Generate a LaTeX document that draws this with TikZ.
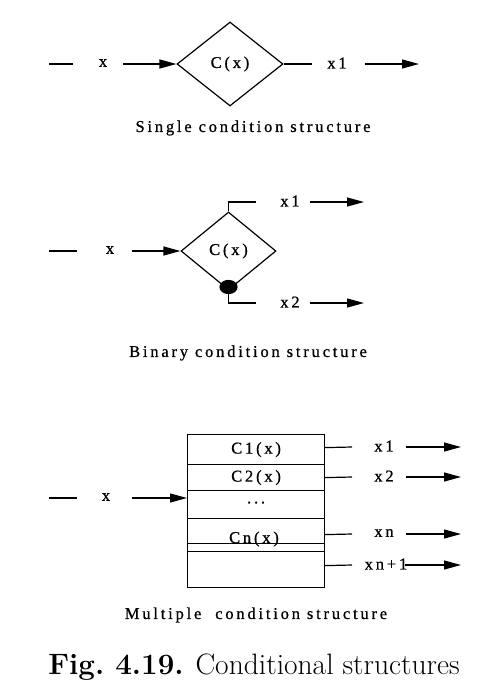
\documentclass[tikz,border=0pt]{standalone}
\usepackage{fontspec}
\newfontfamily\tms[LetterSpace=17,FakeBold=0.8]{Liberation Serif}
\usetikzlibrary{shapes.geometric,arrows.meta}
\tikzset{
  every picture/.style={line width=1.2pt},
  lbl/.style={font=\tms\fontsize{16.5}{18}\selectfont, inner sep=0pt, anchor=center},
  captext/.style={font=\tms\fontsize{16.5}{18}\selectfont, inner sep=0pt},
  arr/.style={-{Triangle[length=17pt,width=9pt]}},
  cond/.style={draw, diamond, inner sep=0pt, font=\tms\fontsize{16.5}{18}\selectfont},
  row/.style={draw, rectangle, minimum width=137pt, inner sep=0pt, anchor=north west},
  dotnode/.style={draw, fill=black, ellipse, minimum width=17pt, minimum height=13pt, inner sep=0pt}
}
\begin{document}
\begin{tikzpicture}[x=1pt,y=-1pt]
\useasboundingbox (0,0) rectangle (494,691);
% ---------- single ----------
\coordinate (a0) at (49,64);
\coordinate (a1) at (73,64);
\draw (a0) -- (a1);
\node[lbl] (ax) at (103,63) {x};
\coordinate (a2) at (123,64);
\node[cond, minimum width=106pt, minimum height=84pt, aspect=1.26] (c1) at (230,64) {C(x)};
\draw[arr] (a2) -- (c1.west);
\coordinate (a3) at (312,64);
\draw (c1.east) -- (a3);
\node[lbl] (ax1) at (337,63) {x1};
\coordinate (a4) at (365,64);
\coordinate (a5) at (419,64);
\draw[arr] (a4) -- (a5);
\node[captext] (cap1) at (253,128) {Single condition structure};
% ---------- binary ----------
\coordinate (b0) at (49,251);
\coordinate (b1) at (77,251);
\draw (b0) -- (b1);
\node[lbl] (bx) at (110,250) {x};
\coordinate (b2) at (132,251);
\node[cond, minimum width=95pt, minimum height=78pt, aspect=1.22] (c2) at (228.5,251) {C(x)};
\draw[arr] (b2) -- (c2.west);
\coordinate (b3) at (256,202);
\draw (c2.north) |- (b3);
\node[lbl] (bx1) at (290,201) {x1};
\coordinate (b4) at (310,202);
\coordinate (b5) at (364,202);
\draw[arr] (b4) -- (b5);
\node[dotnode] (dot) at (228.5,287) {};
\coordinate (b6) at (256,303);
\draw (dot.south) |- (b6);
\node[lbl] (bx2) at (290,302) {x2};
\coordinate (b7) at (310,303);
\coordinate (b8) at (364,303);
\draw[arr] (b7) -- (b8);
\node[captext] (cap2) at (248,353) {Binary condition structure};
% ---------- multiple ----------
\node[row, minimum height=30pt] (r1) at (187,434) {};
\node[row, minimum height=26pt] (r2) at (187,464) {};
\node[row, minimum height=28pt] (r3) at (187,490) {};
\node[row, minimum height=25pt] (r4) at (187,518) {};
\node[row, minimum height=8pt] (r5) at (187,543) {};
\node[row, minimum height=36pt] (r6) at (187,551) {};
\node[lbl] (t1) at (r1.center) {C1(x)};
\node[lbl] (t2) at (r2.center) {C2(x)};
\node[lbl] (t3) at ([yshift=2pt]r3.center) {...};
\node[lbl, anchor=base] (t4) at (254,543) {Cn(x)};
\coordinate (m0) at (49,498);
\coordinate (m1) at (77,498);
\draw (m0) -- (m1);
\node[lbl] (mx) at (106,497) {x};
\coordinate (m2) at (132,498);
\coordinate (m3) at (187,498);
\draw[arr] (m2) -- (m3);
% outputs
\coordinate (o1) at (352,447);
\draw ([yshift=2pt]r1.east) -- (o1);
\node[lbl] (ox1) at (384,446) {x1};
\coordinate (o1a) at (406,447);
\coordinate (o1b) at (461,447);
\draw[arr] (o1a) -- (o1b);
\coordinate (o2) at (352,477);
\draw (r2.east) -- (o2);
\node[lbl] (ox2) at (384,476) {x2};
\coordinate (o2a) at (406,477);
\coordinate (o2b) at (461,477);
\draw[arr] (o2a) -- (o2b);
\coordinate (o3) at (352,534);
\draw ([yshift=-3.5pt]r4.east) -- (o3);
\node[lbl] (ox3) at (384,533) {xn};
\coordinate (o3a) at (406,534);
\coordinate (o3b) at (461,534);
\draw[arr] (o3a) -- (o3b);
\coordinate (o4) at (352,565);
\draw ([yshift=4pt]r6.east) -- (o4);
\node[lbl] (ox4) at (386,564) {xn+1};
\coordinate (o4a) at (405,565);
\coordinate (o4b) at (461,565);
\draw[arr] (o4a) -- (o4b);
\node[captext] (cap3) at (256,615) {Multiple\ \ condition structure};
% ---------- figure caption ----------
\node[inner sep=0pt, font=\fontsize{29.5}{33}\selectfont] (fig) at (254,667) {\textbf{Fig.\ 4.19.} Conditional structures};
\end{tikzpicture}
\end{document}
